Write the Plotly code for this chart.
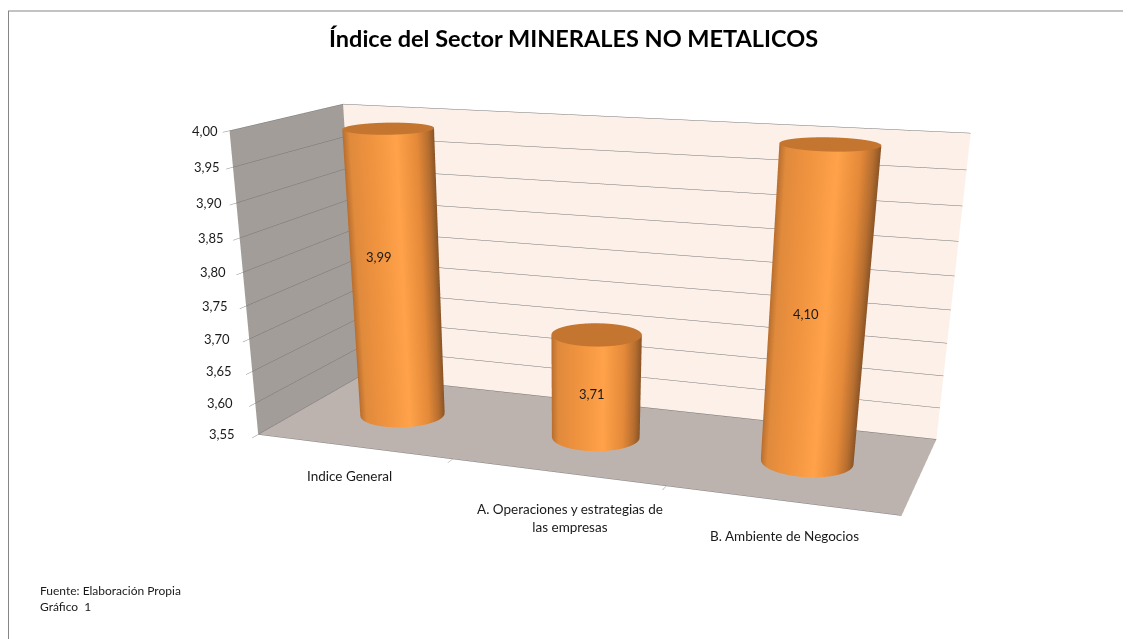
import numpy as np
import plotly.graph_objects as go

categories = ["Indice General", "A. Operaciones y estrategias de<br>las empresas", "B. Ambiente de Negocios"]
values = [3.99, 3.71, 4.10]
value_labels = ["3,99", "3,71", "4,10"]
ticks = [3.55, 3.60, 3.65, 3.70, 3.75, 3.80, 3.85, 3.90, 3.95, 4.00]
z_min, z_max = 3.55, 4.00

# label nudges in px
cat_shift = [(-4, -30), (13, -46), (4, -36)]
val_shift = [(3, 30), (11, 5), (-2, 7)]

# a tall canvas gives the 45 deg gl camera the flatter perspective of the excel chart,
# only the part inside the window gets seen (page has an 8px body margin)
W, H = 1123, 1236
eye = dict(x=0.7301, y=-2.1011, z=0.5157)
center = dict(x=0.0192, y=-0.1705, z=-0.4746)
up = dict(x=-0.1898, y=0.5147, z=1)
aspect = dict(x=1, y=0.3435, z=0.4552)

def px(x):
    return (x-8)/W

def py(y):
    return 1-(y-8)/H

rx, ry = 0.205, 0.1989
theta = np.linspace(0, 2*np.pi, 145)
shade = [[0,'#b86e2f'],[.08,'#e08a3c'],[.3,'#f0933f'],[.58,'#ffa24a'],[.8,'#e58a39'],[.92,'#b86f30'],[1,'#8a5426']]
light = dict(ambient=1, diffuse=0, specular=0, roughness=1, fresnel=0)

fig = go.Figure()
for i, v in enumerate(values):
    # excel cuts the bar at the axis max
    top = min(v, z_max-0.001)
    cx = i+.5
    xs = cx+rx*np.outer(np.cos(theta), [1,1])
    ys = .5+ry*np.outer(np.sin(theta), [1,1])
    zs = np.outer(np.ones_like(theta), [z_min, top])
    # shade across the silhouette as seen from the eye
    vx, vy = eye["x"]-(cx/3-.5), eye["y"]
    n = np.hypot(vx, vy)
    u = np.cos(theta)*(-vy/n)+np.sin(theta)*(vx/n)
    fig.add_trace(go.Surface(x=xs, y=ys, z=zs, surfacecolor=np.outer(u, [1,1]), cmin=-1, cmax=1, colorscale=shade,
                             showscale=False, lighting=light, hoverinfo="skip"))
    rr = np.array([0, 1.0])
    fig.add_trace(go.Surface(x=cx+rx*np.outer(np.cos(theta), rr), y=.5+ry*np.outer(np.sin(theta), rr),
                             z=np.full((len(theta),2), top), surfacecolor=np.zeros((len(theta),2)),
                             cmin=0, cmax=1, colorscale=[[0,'#c4752f'],[1,'#c4752f']],
                             showscale=False, lighting=light, hoverinfo="skip"))

font = dict(family="Lato", size=13, color="#1a1a1a")
cat_font = dict(family="Lato", size=13.5, color="#1a1a1a")
annots = []
for t in ticks:
    annots.append(dict(x=0, y=0, z=t, text=("%.2f" % t).replace(".", ","), showarrow=False, xanchor="right",
                       xshift=-21+11*(t-z_min)/(z_max-z_min), font=font))
for i, v in enumerate(values):
    annots.append(dict(x=i+.5, y=0.5-ry, z=(z_min+min(v,z_max))/2, text=value_labels[i], showarrow=False,
                       xshift=val_shift[i][0], yshift=val_shift[i][1], font=font))
for i, c in enumerate(categories):
    annots.append(dict(x=i+.5, y=0, z=z_min, text=c, showarrow=False,
                       xshift=cat_shift[i][0], yshift=cat_shift[i][1], font=cat_font))

common = dict(showspikes=False, showticklabels=False, title=dict(text=""), showbackground=True)
fig.update_layout(
    width=W, height=H, margin=dict(l=0, r=0, t=0, b=0), paper_bgcolor="white",
    scene=dict(
        domain=dict(x=[0,1], y=[0,1]),
        aspectmode="manual", aspectratio=aspect,
        camera=dict(eye=eye, center=center, up=up, projection=dict(type="perspective")),
        xaxis=dict(range=[0,3], tickvals=[1,2], ticks="inside", ticklen=5, tickcolor="#888888", showgrid=False,
                   backgroundcolor="#a39d9a", showline=True, linecolor="#808080", zeroline=False, **common),
        yaxis=dict(range=[0,1], tickvals=[], showgrid=False, backgroundcolor="#fdf0e8", showline=False, zeroline=False, **common),
        zaxis=dict(range=[z_min,z_max], tickvals=ticks, ticks="outside", ticklen=4, tickcolor="#888888", showgrid=True,
                   gridcolor="#757575", gridwidth=1, backgroundcolor="#bdb3ae", showline=False, zeroline=False, **common),
        annotations=annots, hovermode=False,
    ),
    annotations=[
        dict(x=px(573), y=py(38), xref="paper", yref="paper", xanchor="center", yanchor="middle", showarrow=False,
             text="<b>Índice del Sector MINERALES NO METALICOS</b>", font=dict(family="Lato", size=23.5, color="#000000")),
        dict(x=px(38), y=py(590), xref="paper", yref="paper", xanchor="left", yanchor="middle", showarrow=False, align="left",
             text="Fuente: Elaboración Propia", font=dict(family="Lato", size=12, color="#1a1a1a")),
        dict(x=px(38), y=py(606), xref="paper", yref="paper", xanchor="left", yanchor="middle", showarrow=False, align="left",
             text="Gráfico  1", font=dict(family="Lato", size=12, color="#1a1a1a")),
    ],
    shapes=[
        dict(type="line", xref="paper", yref="paper", x0=0.5/W, x1=0.5/W, y0=0, y1=py(11), line=dict(color="#868686", width=1)),
        dict(type="line", xref="paper", yref="paper", x0=0, x1=1, y0=py(11), y1=py(11), line=dict(color="#868686", width=1)),
    ],
)
fig.write_html("out.html")
